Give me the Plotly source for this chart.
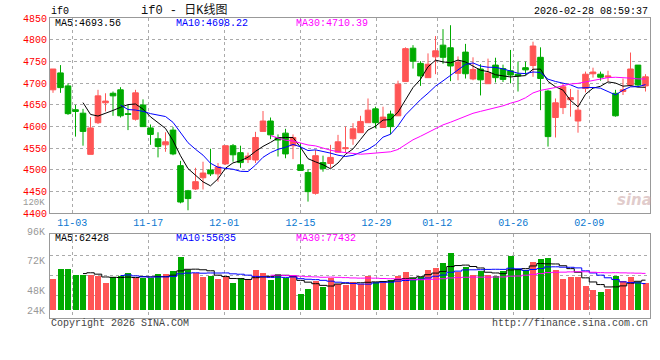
import pandas as pd
import plotly.graph_objects as go

W, H = 660, 360

# ---------------- data ----------------
opens = [4685, 4724, 4694, 4639, 4631, 4536, 4609, 4655, 4677, 4685,
         4630, 4617, 4650, 4597, 4572, 4558, 4592, 4510, 4452, 4456,
         4482, 4500, 4491, 4514, 4556, 4540, 4524, 4523, 4589, 4613,
         4575, 4585, 4556, 4512, 4494, 4446, 4517, 4515, 4541, 4549,
         4572, 4586, 4609, 4641, 4598, 4629, 4625, 4704, 4781, 4746,
         4713, 4761, 4788, 4782, 4723, 4772, 4710, 4733, 4699, 4742,
         4734, 4729, 4721, 4736, 4741, 4760, 4682, 4621, 4644, 4662,
         4613, 4688, 4722, 4721, 4714, 4677, 4681, 4696, 4742, 4694]
highs = [4733, 4742, 4700, 4650, 4641, 4622, 4685, 4677, 4681, 4691,
         4650, 4685, 4663, 4605, 4587, 4587, 4599, 4521, 4454, 4505,
         4519, 4549, 4516, 4556, 4560, 4556, 4540, 4588, 4636, 4621,
         4582, 4595, 4582, 4562, 4502, 4546, 4533, 4558, 4581, 4600,
         4608, 4625, 4665, 4646, 4646, 4637, 4706, 4783, 4788, 4751,
         4769, 4809, 4825, 4834, 4762, 4791, 4760, 4744, 4757, 4759,
         4743, 4777, 4750, 4750, 4796, 4783, 4685, 4665, 4700, 4687,
         4685, 4727, 4736, 4727, 4729, 4685, 4711, 4771, 4742, 4721]
lows = [4678, 4678, 4627, 4577, 4556, 4536, 4606, 4635, 4625, 4621,
        4592, 4614, 4600, 4558, 4529, 4542, 4534, 4423, 4407, 4454,
        4455, 4486, 4473, 4512, 4519, 4505, 4516, 4516, 4589, 4571,
        4531, 4527, 4525, 4499, 4427, 4443, 4496, 4504, 4541, 4540,
        4558, 4586, 4609, 4596, 4598, 4582, 4625, 4704, 4734, 4694,
        4713, 4721, 4745, 4705, 4707, 4711, 4707, 4672, 4699, 4702,
        4703, 4700, 4681, 4719, 4715, 4638, 4554, 4575, 4629, 4623,
        4586, 4679, 4713, 4706, 4704, 4623, 4673, 4692, 4692, 4681]
closes = [4733, 4690, 4630, 4635, 4589, 4597, 4671, 4659, 4671, 4625,
          4628, 4678, 4600, 4582, 4554, 4565, 4537, 4426, 4434, 4473,
          4493, 4491, 4507, 4556, 4535, 4517, 4532, 4575, 4613, 4581,
          4569, 4537, 4575, 4499, 4450, 4533, 4503, 4529, 4565, 4551,
          4595, 4612, 4638, 4609, 4622, 4600, 4698, 4780, 4751, 4717,
          4744, 4775, 4760, 4740, 4749, 4722, 4732, 4708, 4724, 4713,
          4709, 4719, 4717, 4731, 4786, 4711, 4577, 4655, 4692, 4667,
          4638, 4721, 4726, 4714, 4717, 4625, 4685, 4733, 4696, 4715]
volumes = [64900, 85300, 85300, 71700, 73000, 73000, 71000, 56700, 68300, 71000,
           77100, 66200, 66200, 66200, 75100, 75100, 81200, 109900, 82600, 76500,
           68900, 71000, 64900, 68300, 56700, 66900, 62800, 83300, 75800, 62800,
           75100, 65500, 73000, 34100, 44400, 59400, 48500, 66200, 54600, 52600,
           58700, 53900, 71000, 58700, 56000, 62800, 71000, 79200, 66900, 68300,
           83300, 87400, 96300, 116700, 78500, 88100, 73000, 81200, 73000, 71000,
           81200, 110600, 84700, 83300, 98300, 105800, 107900, 83300, 64900, 68900,
           68900, 50500, 41000, 38200, 44400, 69600, 60800, 68900, 57300, 56000]

date_tick_labels = ["11-03", "11-17", "12-01", "12-15", "12-29", "01-12", "01-26", "02-09"]
price_ticks = [4400, 4450, 4500, 4550, 4600, 4650, 4700, 4750, 4800, 4850]
vol_tick_labels = ["96K", "72K", "48K", "24K"]
price_ma_text = ["MA5:4693.56", "MA10:4698.22", "MA30:4710.39"]
vol_ma_text = ["MA5:62428", "MA10:55635", "MA30:77432"]

# trading calendar
days = pd.bdate_range("2025-10-29", "2026-02-27")
holidays = pd.to_datetime(["2026-01-01", "2026-01-02", "2026-02-16", "2026-02-17",
                           "2026-02-18", "2026-02-19", "2026-02-20", "2026-02-23"])
days = days[~days.isin(holidays)]
x = list(range(len(closes)))
labels_all = [d.strftime("%m-%d") for d in days]
tick_idx = [labels_all.index(t) for t in date_tick_labels]
# label grid of the source is spaced slightly wider than the candles
tickvals = [i * (7.603 / 7.5) - 0.467 for i in tick_idx]

UP = "#FF5555"
DOWN = "#00AA00"
MONO = "Liberation Mono, DejaVu Sans Mono, monospace"


def px(v):
    return v / W


def py(v):
    return 1 - v / H


cs = pd.Series(closes, dtype=float)
vs = pd.Series(volumes, dtype=float)
ma_colors = ["#000000", "#0000FF", "#FF00FF"]
ma_periods = [5, 10, 30]

fig = go.Figure()
fig.add_trace(go.Candlestick(
    x=x, open=opens, high=highs, low=lows, close=closes,
    increasing=dict(line=dict(color=UP, width=1), fillcolor=UP),
    decreasing=dict(line=dict(color=DOWN, width=1), fillcolor=DOWN),
    whiskerwidth=0, hoverinfo="skip", xaxis="x", yaxis="y", showlegend=False))
for p, c in zip(ma_periods, ma_colors):
    fig.add_trace(go.Scatter(x=x, y=cs.rolling(p).mean(), mode="lines",
                             line=dict(color=c, width=1), xaxis="x", yaxis="y",
                             showlegend=False, hoverinfo="skip"))

bar_colors = [UP if c >= o else DOWN for o, c in zip(opens, closes)]
fig.add_trace(go.Bar(x=x, y=volumes, marker=dict(color=bar_colors, line=dict(width=0)),
                     width=0.8, xaxis="x2", yaxis="y2", showlegend=False, hoverinfo="skip"))
for p, c in zip(ma_periods, ma_colors):
    fig.add_trace(go.Scatter(x=x, y=vs.rolling(p).mean(), mode="lines",
                             line=dict(color=c, width=1, shape="hvh"), xaxis="x2", yaxis="y2",
                             showlegend=False, hoverinfo="skip"))

grid = dict(showgrid=True, gridcolor="#AAAAAA", griddash="dot", gridwidth=1,
            showline=True, mirror=True, linecolor="#999999", linewidth=1,
            zeroline=False, ticks="", automargin=False)
xdom = [px(50), px(650)]
fig.update_layout(
    width=W, height=H, margin=dict(l=0, r=0, t=0, b=0, pad=0, autoexpand=False),
    paper_bgcolor="white", plot_bgcolor="white",
    boxgap=0.25, boxgroupgap=0, bargap=0,
    font=dict(family=MONO, size=10, color="#000"),
    xaxis=dict(domain=xdom, range=[-0.4, 79.6], anchor="y", tickvals=tickvals,
               ticktext=date_tick_labels, tickfont=dict(color="#0A78D0", size=10, family=MONO),
               rangeslider=dict(visible=False), **grid),
    yaxis=dict(domain=[py(213.3), py(18.3)], range=[4400, 4850], anchor="x",
               tickvals=price_ticks, tickfont=dict(color="#FF0000", size=10, family=MONO),
               **grid),
    xaxis2=dict(domain=xdom, range=[-0.4, 79.6], anchor="y2", tickvals=tickvals,
                showticklabels=False, **grid),
    yaxis2=dict(domain=[py(318), py(234.3)], range=[-15000, 156500], anchor="x2",
                tickvals=[32000, 73000, 114000], showticklabels=False, **grid),
)

ann = []


def add(text, xp, yp, anchor="left", color="#000", size=10, family=MONO, **kw):
    ann.append(dict(text=text, x=px(xp), y=py(yp), xref="paper", yref="paper",
                    xanchor=anchor, yanchor="middle", showarrow=False,
                    font=dict(color=color, size=size, family=family), **kw))


add("if0", 49, 12)
add("if0 - 日K线图", 139, 10, size=12, family="Liberation Mono, Noto Sans CJK SC", color="#111")
add("2026-02-28 08:59:37", 650, 11.5, anchor="right")
for t, xp, c in zip(price_ma_text, [53, 174, 294], ma_colors):
    add(t, xp, 23.5, color=c)
for t, xp, c in zip(vol_ma_text, [53, 174, 294], ma_colors):
    add(t, xp, 238.5, color=c)
for t, yp in zip(vol_tick_labels, [232, 261, 291, 311]):
    add(t, 47, yp, anchor="right", color="#999999")
add("120K", 47, 202.5, anchor="right", color="#999999", size=9)
add("Copyright 2026 SINA.COM", 49, 323, color="#444444")
add("http://finance.sina.com.cn", 650, 323, anchor="right", color="#444444")
add("<b><i>sina</i></b>", 634, 200, anchor="center", color="rgba(200,160,160,0.55)",
    size=15, family="DejaVu Sans")
fig.update_layout(annotations=ann)

fig.write_html("out.html", config={"displayModeBar": False},
               post_script="document.body.style.margin='0';document.body.style.overflow='hidden';")
